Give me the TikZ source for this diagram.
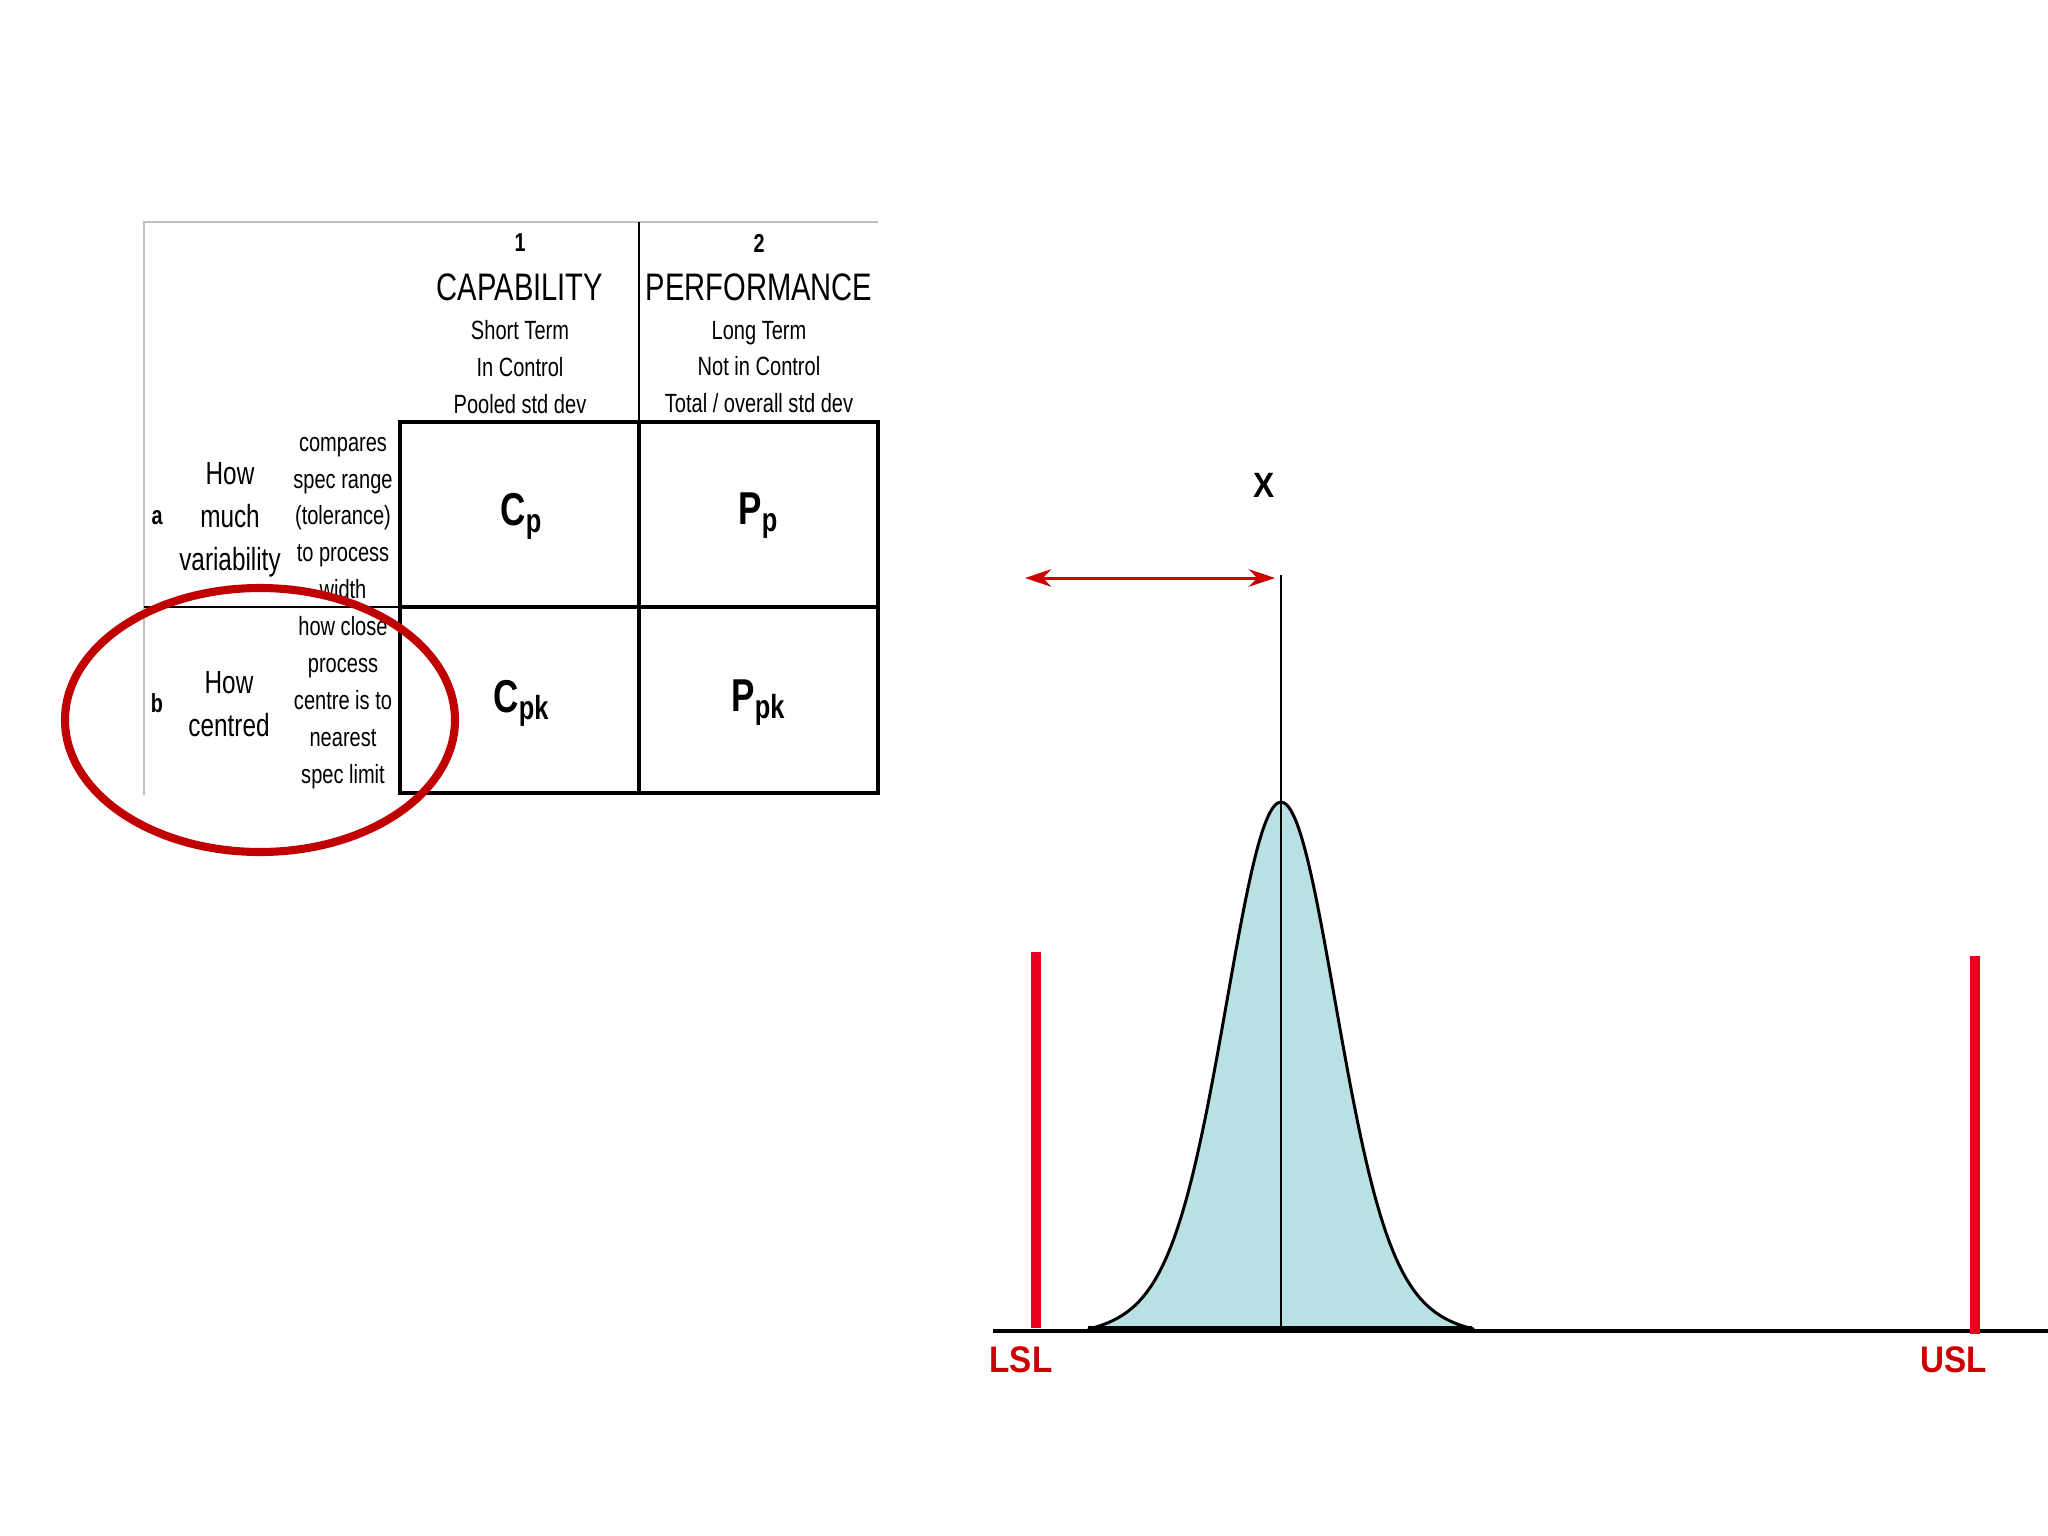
\documentclass[tikz,border=0pt]{standalone}
\usepackage{fontspec}
\setmainfont{Liberation Sans}[FakeStretch=0.76]
\newfontfamily\widesans{Liberation Sans}[FakeStretch=0.9]
\usetikzlibrary{arrows.meta}
\definecolor{ringred}{HTML}{C00000}
\definecolor{specred}{HTML}{E8001C}
\definecolor{lblred}{HTML}{CC0000}
\definecolor{bellfill}{HTML}{B9E0E2}
\definecolor{rulegray}{HTML}{BFBFBF}

% index letter with lowered suffix
\newcommand{\capidx}[2]{#1\raisebox{-2pt}{\fontsize{9.5}{10}\selectfont #2}}

\begin{document}
\begin{tikzpicture}[x=0.01cm, y=-0.01cm,
    colnum/.style={font=\bfseries\fontsize{7.4}{8}\selectfont},
    colhead/.style={font=\fontsize{10.9}{13}\selectfont},
    colsub/.style={font=\fontsize{7.5}{10.4}\selectfont, align=center},
    rowlbl/.style={font=\bfseries\fontsize{7.4}{9}\selectfont},
    rowhead/.style={font=\fontsize{9.1}{12.3}\selectfont, align=center},
    rowsub/.style={font=\fontsize{7.5}{10.5}\selectfont, align=center},
    index/.style={font=\bfseries\fontsize{13.1}{15}\selectfont},
    speclbl/.style={font=\widesans\bfseries\fontsize{10.5}{12}\selectfont, text=lblred}]
    \useasboundingbox (0,0) rectangle (2048,1536);

    % Table frame
    \draw[rulegray, line width=0.4pt] (878,222) -- (144,222) -- (144,795);
    \draw[line width=0.6pt] (639,222) -- (639,422);
    \draw[line width=0.6pt] (144,607) -- (400,607);
    \draw[line width=1.2pt] (400,422) rectangle (878,793);
    \draw[line width=1.2pt] (639,422) -- (639,793);
    \draw[line width=1.2pt] (400,607) -- (878,607);

    % Column heads
    \node[colnum] (num1) at (520,243) {1};
    \node[colhead] (capab) at (520,287) {CAPABILITY};
    \node[colsub] (capsub) at (520,367) {Short Term\\In Control\\Pooled std dev};
    \node[colnum] (num2) at (759,243) {2};
    \node[colhead] (perf) at (759,287) {PERFORMANCE};
    \node[colsub] (perfsub) at (759,367) {Long Term\\Not in Control\\Total / overall std dev};

    % Row heads
    \node[rowlbl] (rowa) at (157,518) {a};
    \node[rowhead] (howmuch) at (230,520) {How\\much\\variability};
    \node[rowsub] (cmpa) at (343,518) {compares\\spec range\\(tolerance)\\to process\\width};
    \node[rowlbl] (rowb) at (157,703) {b};
    \node[rowhead] (howcent) at (229,704) {How\\centred};
    \node[rowsub] (cmpb) at (343,703) {how close\\process\\centre is to\\nearest\\spec limit};

    % Cells
    \foreach \x/\y/\nm/\base/\sub in {521/516/cp/C/p, 758/516/pp/P/p, 521/703/cpk/C/pk, 758/703/ppk/P/pk} {
        \node[index] (\nm) at (\x,\y) {\capidx{\base}{\sub}};
    }

    % Highlight ring
    \draw[ringred, line width=2.3pt] (260,720) ellipse (195 and 132);

    % Distribution
    \draw[fill=bellfill, line width=0.85pt, line join=round]
        plot[domain=-3.7:3.7, samples=121, smooth]
        ({1281+52*\x},{1329-535*(0.8*exp(-0.5*\x*\x)+0.2*exp(-0.5*\x*\x/2.6)-0.0152)}) -- cycle;

    % Axis
    \draw[line width=1.4pt] (993,1331) -- (2048,1331);
    \draw[line width=2pt] (1088,1329.5) -- (1472,1329.5);

    % Mean
    \coordinate (mtop) at (1281,575);
    \coordinate (mbot) at (1281,1328);
    \draw[line width=0.7pt] (mtop) -- (mbot);
    \node[font=\widesans\bfseries\fontsize{10}{11}\selectfont] (xbar) at (1264,485) {X};
    \coordinate (arrL) at (1025,578);
    \coordinate (arrR) at (1275,578);
    \draw[lblred, line width=0.85pt, {Stealth[length=7.5pt, width=5pt]}-{Stealth[length=7.5pt, width=5pt]}] (arrL) -- (arrR);

    % Spec limits
    \foreach \x/\top/\bot/\lbl/\nm/\lx in {1036/952/1328/LSL/lsl/1021, 1975/956/1334/USL/usl/1954} {
        \draw[specred, line width=2.6pt] (\x,\top) -- (\x,\bot);
        \node[speclbl] (\nm) at (\lx,1360) {\lbl};
    }
\end{tikzpicture}
\end{document}
